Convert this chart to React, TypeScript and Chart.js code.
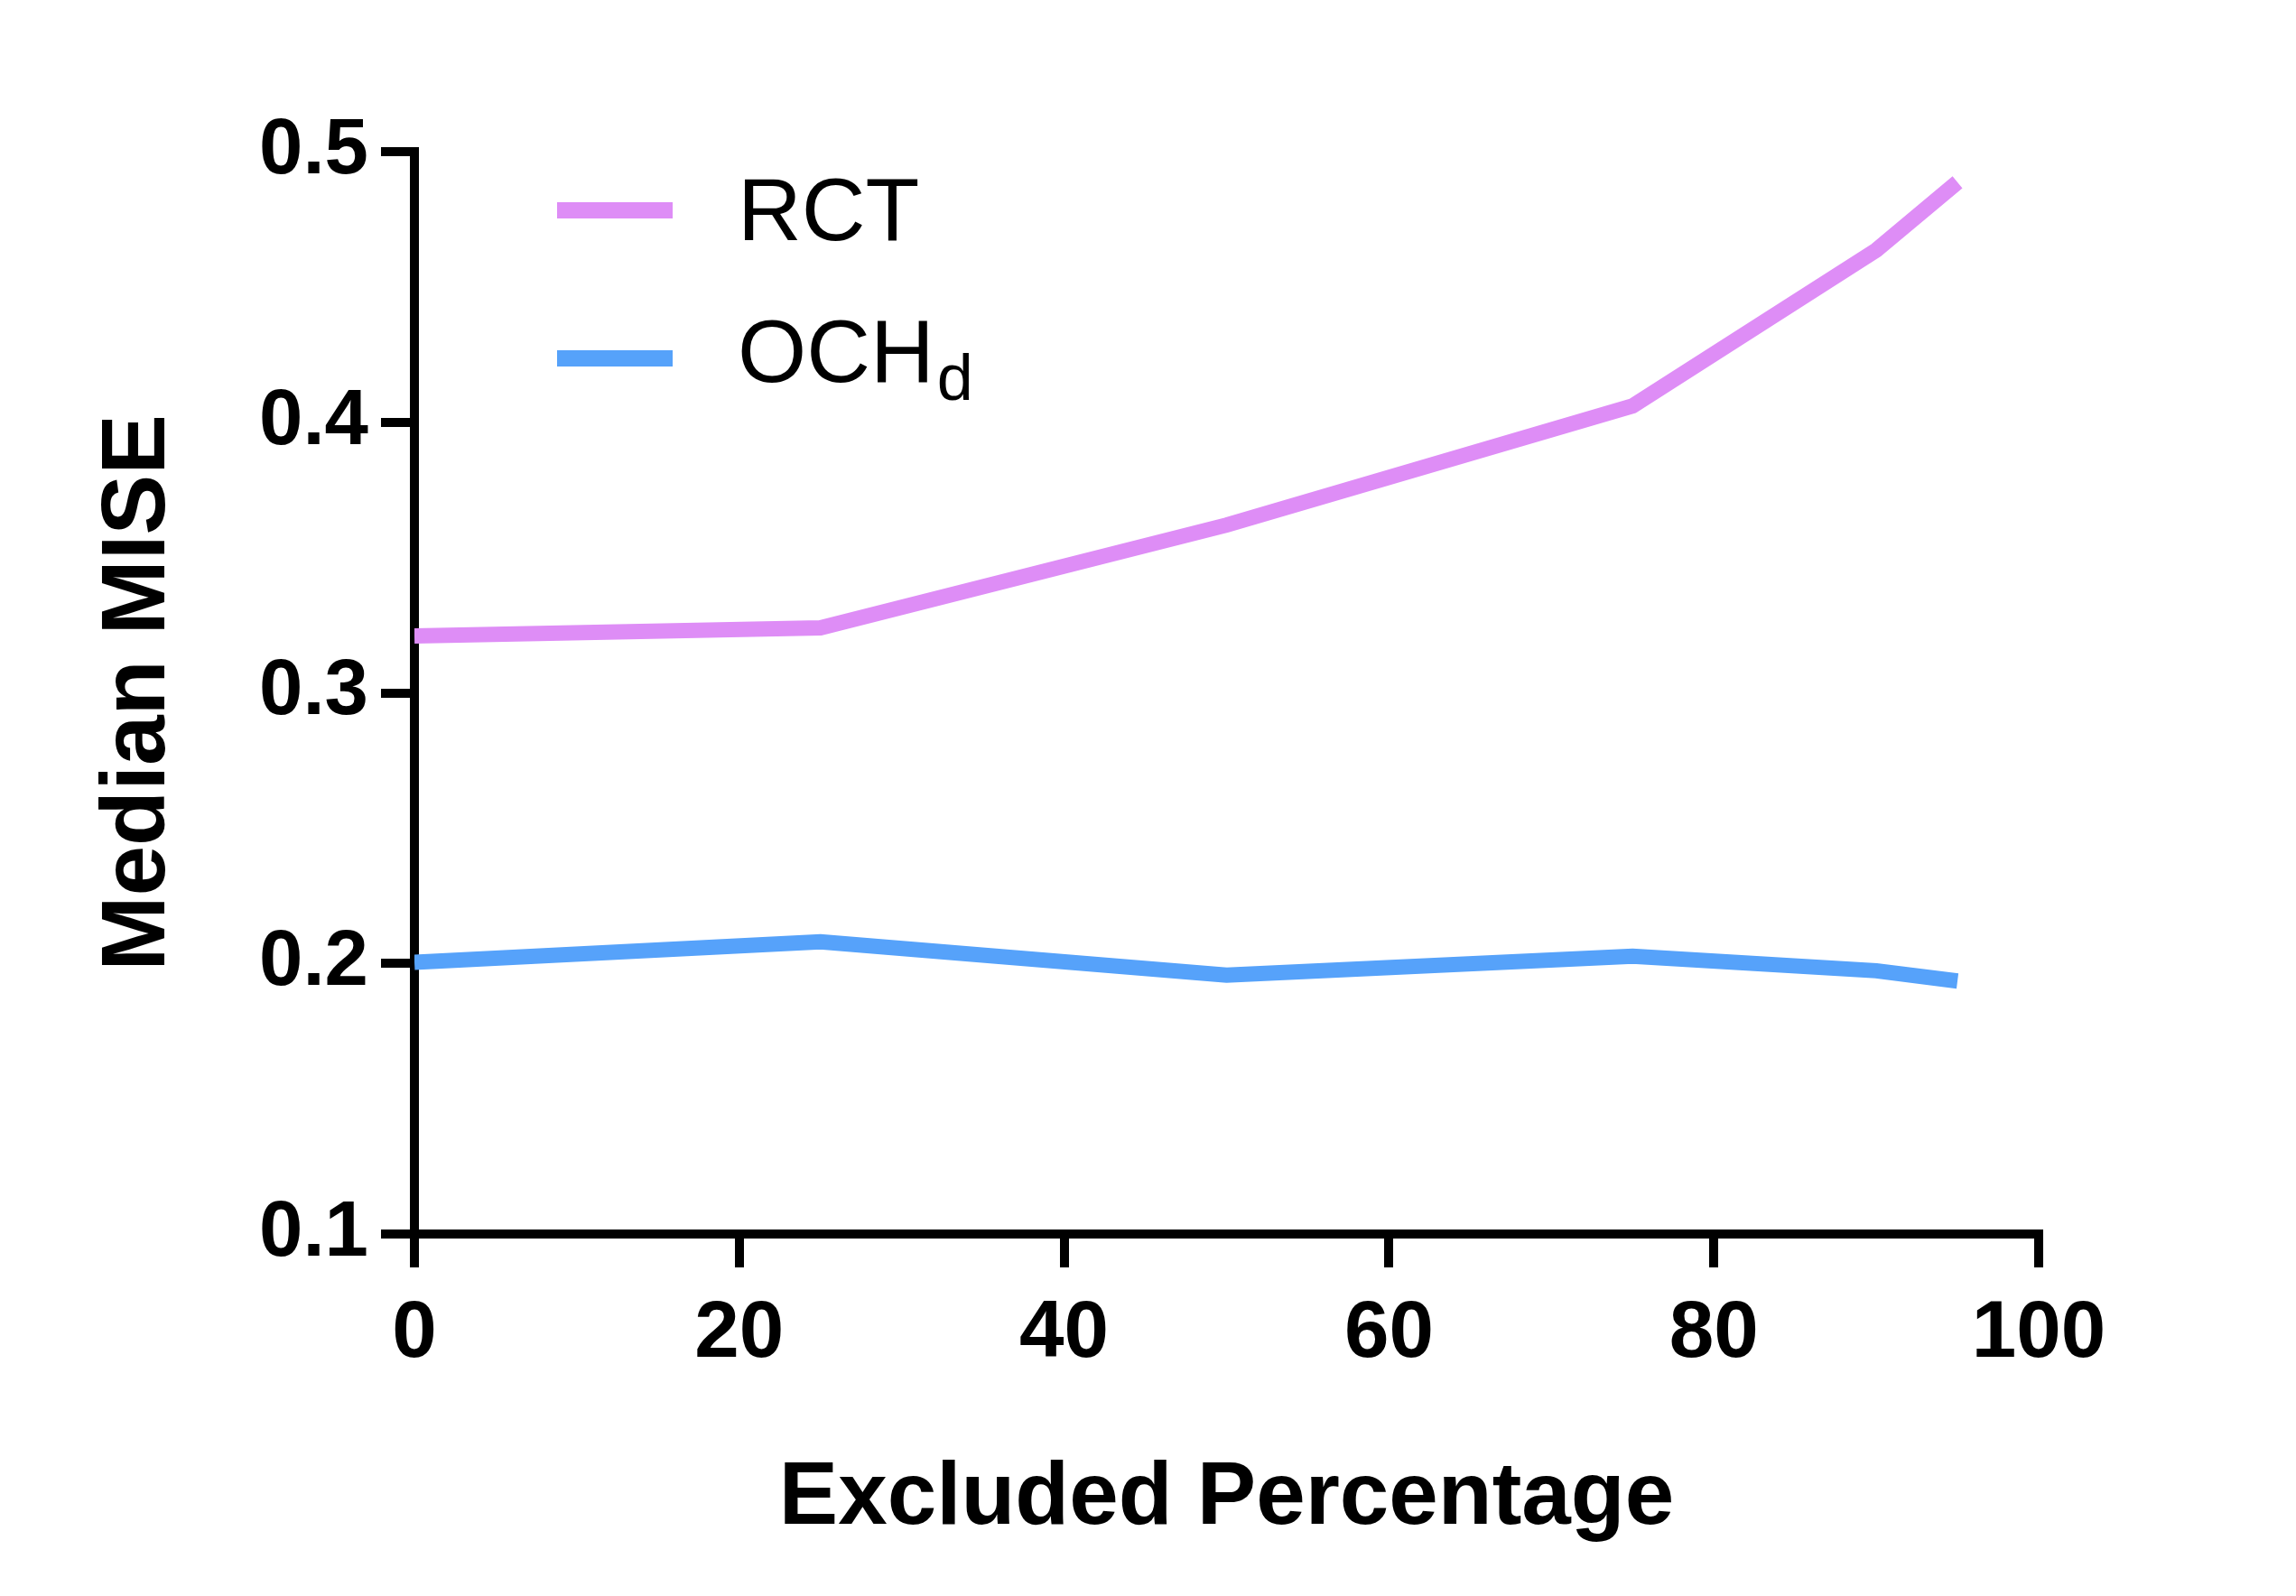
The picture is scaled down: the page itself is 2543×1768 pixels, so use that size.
import React, { useEffect, useRef } from 'react';
import { Chart, registerables } from 'chart.js';

Chart.register(...registerables);

// ---- data ----
const xValues = [0, 25, 50, 75, 90, 95];
const rctValues = [0.321, 0.324, 0.362, 0.406, 0.4636, 0.4887];
const ochValues = [0.2004, 0.208, 0.1957, 0.2027, 0.1973, 0.1935];
const seriesLabels = ['RCT', 'OCH'];
const seriesSubscripts = ['', 'd'];
const seriesColors = ['#DE8DF6', '#56A2FA'];
const xTicks = [0, 20, 40, 60, 80, 100];
const yTicks = [0.1, 0.2, 0.3, 0.4, 0.5];
const xTitle = 'Excluded Percentage';
const yTitle = 'Median MISE';

const FONT = '"Liberation Sans", Arial, Helvetica, sans-serif';

const legendPlugin = {
  id: 'customLegend',
  afterDraw(chart: any) {
    const ctx = chart.ctx;
    const lineY = [233, 397];
    const baseY = [266, 423];
    chart.data.datasets.forEach((ds: any, i: number) => {
      ctx.save();
      ctx.strokeStyle = ds.borderColor;
      ctx.lineWidth = 18;
      ctx.lineCap = 'butt';
      ctx.beginPath();
      ctx.moveTo(617, lineY[i]);
      ctx.lineTo(745, lineY[i]);
      ctx.stroke();
      ctx.fillStyle = '#000';
      ctx.textAlign = 'left';
      ctx.textBaseline = 'alphabetic';
      ctx.font = `98px ${FONT}`;
      ctx.fillText(seriesLabels[i], 817, baseY[i]);
      const w = ctx.measureText(seriesLabels[i]).width;
      if (seriesSubscripts[i]) {
        ctx.font = `72px ${FONT}`;
        ctx.fillText(seriesSubscripts[i], 817 + w + 3, baseY[i] + 20);
      }
      ctx.restore();
    });
  },
};

export default function App() {
  const ref = useRef<HTMLCanvasElement>(null);

  useEffect(() => {
    document.body.style.margin = '0';
    const canvas = ref.current;
    if (!canvas) return;
    const makeData = (vals: number[]) => xValues.map((x, i) => ({ x, y: vals[i] }));
    const chart = new Chart(canvas, {
      type: 'line',
      data: {
        datasets: [
          {
            label: seriesLabels[0],
            data: makeData(rctValues),
            borderColor: seriesColors[0],
            backgroundColor: seriesColors[0],
            borderWidth: 17,
            pointRadius: 0,
            borderCapStyle: 'butt',
            borderJoinStyle: 'miter',
            tension: 0,
          },
          {
            label: seriesLabels[1] + seriesSubscripts[1],
            data: makeData(ochValues),
            borderColor: seriesColors[1],
            backgroundColor: seriesColors[1],
            borderWidth: 17,
            pointRadius: 0,
            borderCapStyle: 'butt',
            borderJoinStyle: 'miter',
            tension: 0,
          },
        ],
      },
      options: {
        responsive: false,
        animation: false,
        devicePixelRatio: 1,
        layout: { padding: { top: 168, right: 285, bottom: 0, left: 0 } },
        plugins: { legend: { display: false }, tooltip: { enabled: false } },
        scales: {
          x: {
            type: 'linear',
            min: 0,
            max: 100,
            afterFit: (s: any) => { s.height = 401; },
            afterBuildTicks: (s: any) => { s.ticks = xTicks.map((v) => ({ value: v })); },
            grid: {
              display: true,
              drawOnChartArea: false,
              drawTicks: true,
              tickLength: 37,
              lineWidth: 10,
              tickWidth: 10,
              color: '#000',
              tickColor: '#000',
            },
            border: { display: true, width: 10, color: '#000' },
            ticks: {
              color: '#000',
              padding: 21,
              maxRotation: 0,
              autoSkip: false,
              font: { family: FONT, size: 89, weight: 'bold' },
              callback: (v: any) => String(v),
            },
            title: {
              display: true,
              text: xTitle,
              color: '#000',
              font: { family: FONT, size: 98, weight: 'bold' },
              padding: { top: 0, bottom: 48 },
            },
          },
          y: {
            type: 'linear',
            min: 0.1,
            max: 0.5,
            afterFit: (s: any) => { s.width = 459; },
            afterBuildTicks: (s: any) => { s.ticks = yTicks.map((v) => ({ value: v })); },
            grid: {
              display: true,
              drawOnChartArea: false,
              drawTicks: true,
              tickLength: 37,
              lineWidth: 10,
              tickWidth: 10,
              color: '#000',
              tickColor: '#000',
            },
            border: { display: true, width: 10, color: '#000' },
            ticks: {
              color: '#000',
              padding: 14,
              autoSkip: false,
              font: { family: FONT, size: 87, weight: 'bold' },
              callback: (v: any) => Number(v).toFixed(1),
            },
            title: {
              display: true,
              text: yTitle,
              color: '#000',
              font: { family: FONT, size: 100, weight: 'bold' },
              padding: { top: 94, bottom: 0 },
            },
          },
        },
      },
      plugins: [legendPlugin],
    } as any);
    return () => chart.destroy();
  }, []);

  return (
    <canvas
      ref={ref}
      width={2543}
      height={1768}
      style={{ display: 'block', width: '2543px', height: '1768px' }}
    />
  );
}
